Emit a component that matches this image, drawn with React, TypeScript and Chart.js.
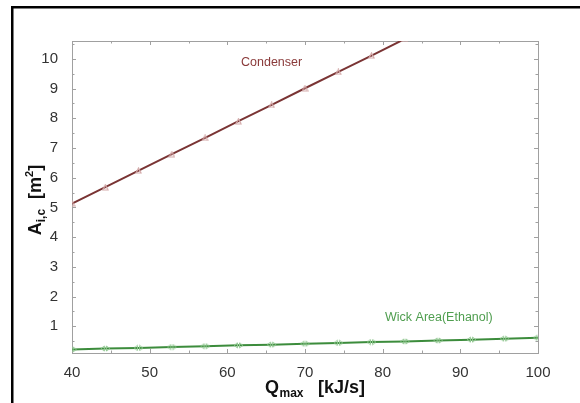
import React, { useEffect, useRef } from "react";
import { Chart, registerables } from "chart.js";

Chart.register(...registerables);

// Data
const qMax = [40, 44.29, 48.57, 52.86, 57.14, 61.43, 65.71, 70, 74.29, 78.57, 82.86, 87.14, 91.43, 95.71, 100];
const condenserArea = [5.13, 5.68, 6.24, 6.79, 7.34, 7.9, 8.45, 9.01, 9.56, 10.11, 10.67, 11.22, 11.77, 12.33, 12.88];
const wickArea = [0.22, 0.25, 0.27, 0.3, 0.33, 0.36, 0.38, 0.41, 0.44, 0.47, 0.49, 0.52, 0.55, 0.58, 0.61];
const xMajorTicks = [40, 50, 60, 70, 80, 90, 100];
const xMinorTicks = [45, 55, 65, 75, 85, 95];
const yMajorTicks = [1, 2, 3, 4, 5, 6, 7, 8, 9, 10];
const yMinorTicks = [0.5, 1.5, 2.5, 3.5, 4.5, 5.5, 6.5, 7.5, 8.5, 9.5, 10.5];
const seriesLabels = ["Condenser", "Wick Area(Ethanol)"];

function makeTriangleMarker(color: string): HTMLCanvasElement {
  const c = document.createElement("canvas");
  c.width = 7;
  c.height = 7;
  const g = c.getContext("2d")!;
  g.strokeStyle = color;
  g.lineWidth = 1.2;
  g.beginPath();
  g.moveTo(3.5, 1);
  g.lineTo(6, 6);
  g.lineTo(1, 6);
  g.closePath();
  g.stroke();
  return c;
}

function makeDoubleMarker(color: string): HTMLCanvasElement {
  const c = document.createElement("canvas");
  c.width = 11;
  c.height = 7;
  const g = c.getContext("2d")!;
  g.strokeStyle = color;
  g.lineWidth = 1;
  g.beginPath();
  g.moveTo(4.5, 1);
  g.lineTo(1, 3.5);
  g.lineTo(4.5, 6);
  g.closePath();
  g.moveTo(6.5, 1);
  g.lineTo(10, 3.5);
  g.lineTo(6.5, 6);
  g.closePath();
  g.stroke();
  return c;
}

const framePlugin = {
  id: "framePlugin",
  beforeDatasetsDraw(chart: any) {
    const { ctx, chartArea: a, scales } = chart;
    const xs = scales.x;
    const ys = scales.y;
    ctx.save();
    ctx.strokeStyle = "#a0a0a0";
    ctx.lineWidth = 1;
    ctx.strokeRect(Math.round(a.left) + 0.5, Math.round(a.top) + 0.5, Math.round(a.right - a.left), Math.round(a.bottom - a.top));
    ctx.beginPath();
    const tickX = (v: number, len: number) => {
      const px = Math.round(xs.getPixelForValue(v)) + 0.5;
      ctx.moveTo(px, a.bottom);
      ctx.lineTo(px, a.bottom - len);
      ctx.moveTo(px, a.top);
      ctx.lineTo(px, a.top + len);
    };
    const tickY = (v: number, len: number) => {
      if (v < ys.min || v > ys.max) return;
      const py = Math.round(ys.getPixelForValue(v)) + 0.5;
      ctx.moveTo(a.left, py);
      ctx.lineTo(a.left + len, py);
      ctx.moveTo(a.right, py);
      ctx.lineTo(a.right - len, py);
    };
    xMajorTicks.forEach((v) => tickX(v, 4));
    xMinorTicks.forEach((v) => tickX(v, 2.5));
    yMajorTicks.forEach((v) => tickY(v, 4));
    yMinorTicks.forEach((v) => tickY(v, 2.5));
    ctx.stroke();
    ctx.restore();
  },
  afterDraw(chart: any) {
    const { ctx } = chart;
    ctx.save();
    // outer black border (left and top)
    ctx.fillStyle = "#000";
    ctx.fillRect(11, 6, 2.5, 403);
    ctx.fillRect(11, 6, 580, 2.5);

    // series labels
    ctx.font = "12.5px 'Liberation Sans', Arial, sans-serif";
    ctx.textBaseline = "middle";
    ctx.textAlign = "left";
    ctx.fillStyle = "#8a3a3a";
    ctx.fillText(seriesLabels[0], 241, 62.5);
    ctx.fillStyle = "#4f9e4f";
    ctx.fillText(seriesLabels[1], 385, 317.5);

    // x axis title
    const big = "bold 18px 'Liberation Sans', Arial, sans-serif";
    const small = "bold 12px 'Liberation Sans', Arial, sans-serif";
    ctx.fillStyle = "#111";
    ctx.textBaseline = "alphabetic";
    let x = 265;
    const by = 393;
    ctx.font = big;
    ctx.fillText("Q", x, by);
    x += ctx.measureText("Q").width + 0.5;
    ctx.font = small;
    ctx.fillText("max", x, by + 4);
    ctx.font = big;
    ctx.fillText("[kJ/s]", 318, by);

    // y axis title (rotated)
    ctx.translate(41, 200);
    ctx.rotate(-Math.PI / 2);
    ctx.font = big;
    const wA = ctx.measureText("A").width;
    ctx.font = small;
    const wIc = ctx.measureText("i,c").width;
    const wGap = 10;
    ctx.font = big;
    const wM = ctx.measureText("[m").width;
    ctx.font = "bold 11px 'Liberation Sans', Arial, sans-serif";
    const w2 = ctx.measureText("2").width;
    ctx.font = big;
    const wB = ctx.measureText("]").width;
    const total = wA + wIc + wGap + wM + w2 + wB;
    let t = -total / 2;
    ctx.font = big;
    ctx.fillText("A", t, 0);
    t += wA;
    ctx.font = small;
    ctx.fillText("i,c", t, 4);
    t += wIc + wGap;
    ctx.font = big;
    ctx.fillText("[m", t, 0);
    t += wM;
    ctx.font = "bold 11px 'Liberation Sans', Arial, sans-serif";
    ctx.fillText("2", t, -8);
    t += w2;
    ctx.font = big;
    ctx.fillText("]", t, 0);
    ctx.restore();
  },
};

export default function App() {
  const ref = useRef<HTMLCanvasElement | null>(null);
  useEffect(() => {
    if (!ref.current) return;
    const condMarker = makeTriangleMarker("#d3a9a9");
    const wickMarker = makeDoubleMarker("#92c892");
    const chart = new Chart(ref.current, {
      type: "line",
      data: {
        datasets: [
          {
            label: seriesLabels[0],
            data: qMax.map((q, i) => ({ x: q, y: condenserArea[i] })),
            borderColor: "#7a3434",
            borderWidth: 2,
            pointStyle: condMarker as any,
            pointRadius: 3,
          },
          {
            label: seriesLabels[1],
            data: qMax.map((q, i) => ({ x: q, y: wickArea[i] })),
            borderColor: "#3c8c3c",
            borderWidth: 2,
            pointStyle: wickMarker as any,
            pointRadius: 3,
          },
        ],
      },
      options: {
        animation: false,
        responsive: false,
        devicePixelRatio: 1,
        layout: { padding: { left: 0, top: 41, right: 42, bottom: 0 } },
        plugins: { legend: { display: false }, tooltip: { enabled: false } },
        scales: {
          x: {
            type: "linear",
            min: 40,
            max: 100,
            grid: { display: false },
            border: { display: false },
            afterBuildTicks: (s: any) => {
              s.ticks = xMajorTicks.map((v) => ({ value: v }));
            },
            afterFit: (s: any) => {
              s.height = 50;
            },
            ticks: {
              padding: 3,
              color: "#333",
              font: { family: "'Liberation Sans', Arial, sans-serif", size: 15 },
              maxRotation: 0,
            },
          },
          y: {
            type: "linear",
            min: 0.1,
            max: 10.6,
            grid: { display: false },
            border: { display: false },
            afterBuildTicks: (s: any) => {
              s.ticks = yMajorTicks.map((v) => ({ value: v }));
            },
            afterFit: (s: any) => {
              s.width = 72;
            },
            ticks: {
              padding: 6,
              color: "#333",
              font: { family: "'Liberation Sans', Arial, sans-serif", size: 15 },
            },
          },
        },
      },
      plugins: [framePlugin],
    });
    return () => chart.destroy();
  }, []);
  return (
    <div style={{ position: "absolute", left: 0, top: 0, width: 580, height: 403, background: "#fff" }}>
      <canvas ref={ref} width={580} height={403} style={{ display: "block" }} />
    </div>
  );
}
